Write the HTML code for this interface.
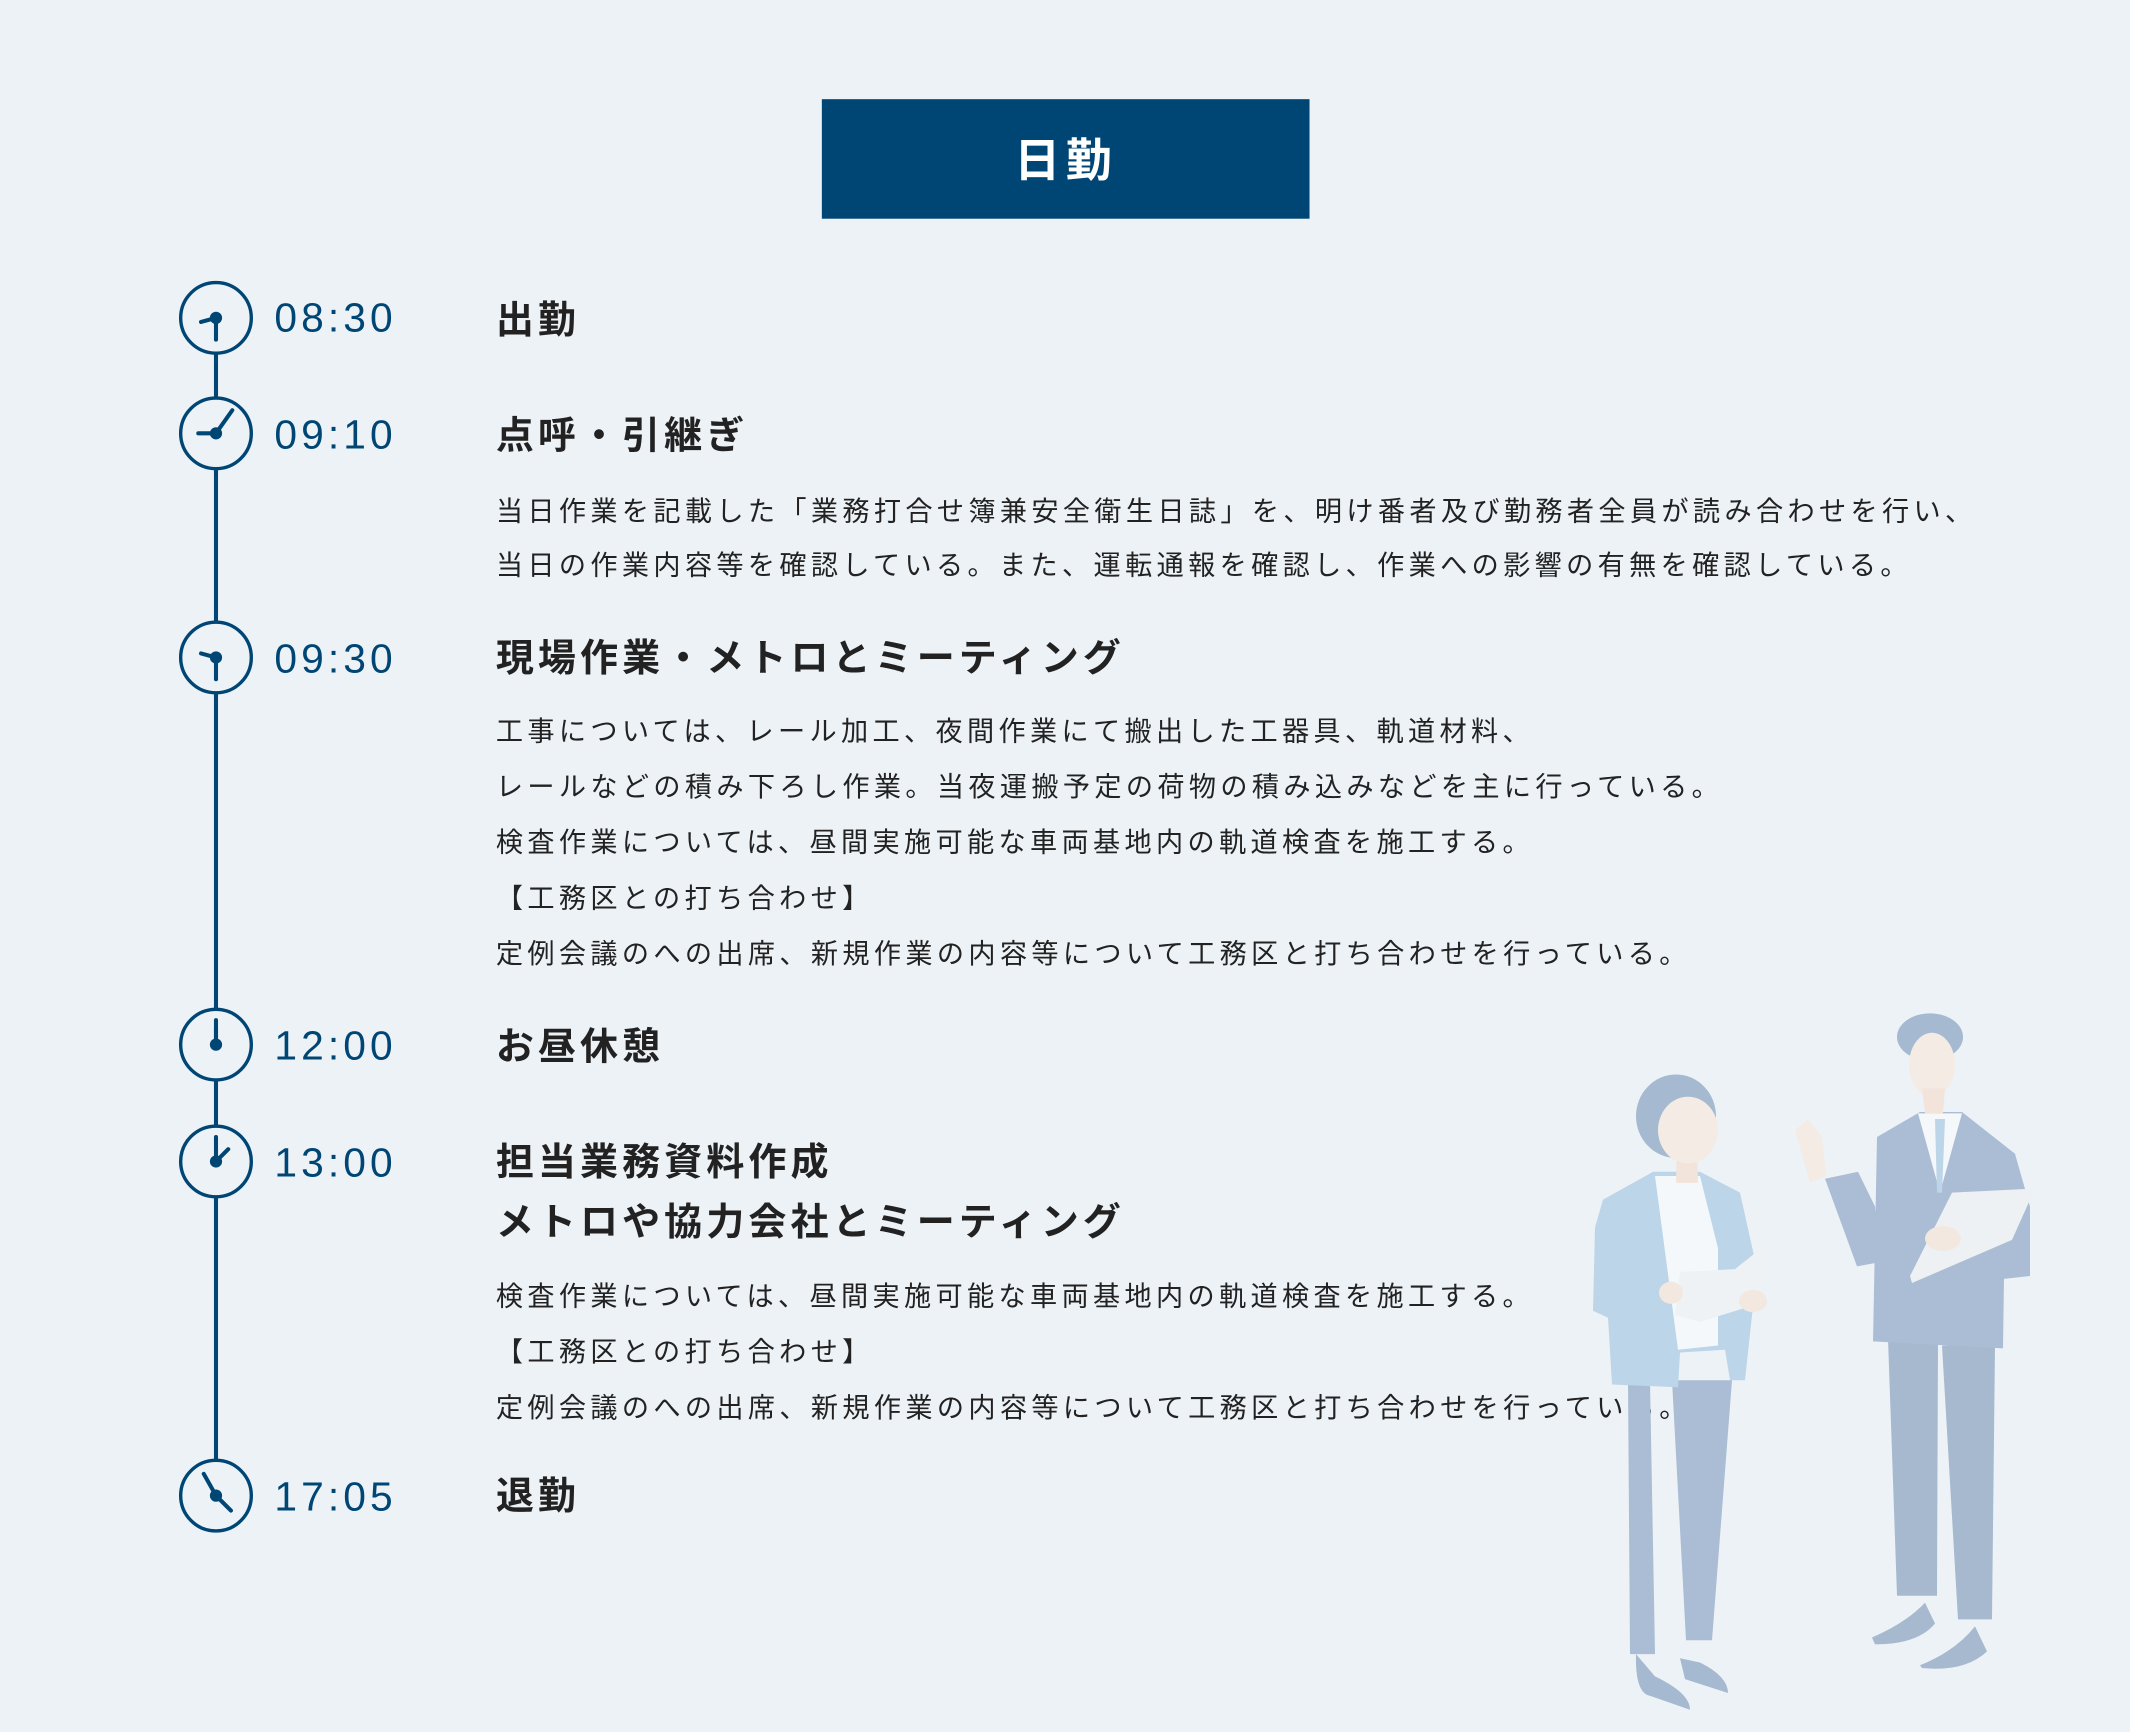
<!DOCTYPE html>
<html><head><meta charset="utf-8">
<style>
html,body{margin:0;padding:0;background:#edf2f7;}
svg{position:absolute;left:0;top:0;display:block}
.t{font-family:"Liberation Sans","Noto Sans CJK JP",sans-serif;}
</style></head>
<body>
<svg width="2130" height="1732" viewBox="0 0 1568 1275" xmlns="http://www.w3.org/2000/svg">
<rect width="1568" height="1275" fill="#edf2f7"/>
<rect x="605" y="73" width="359" height="88" fill="#004675"/>
<text x="784.5" y="130" text-anchor="middle" class="t" font-size="34" font-weight="bold" fill="#fff" letter-spacing="4">日勤</text>
<line x1="159" y1="234" x2="159" y2="1101" stroke="#004675" stroke-width="3"/>
<g fill="#edf2f7" stroke="#004675" stroke-width="2.5">
<circle cx="159" cy="234" r="26"/><circle cx="159" cy="319" r="26"/><circle cx="159" cy="484" r="26"/>
<circle cx="159" cy="769" r="26"/><circle cx="159" cy="855" r="26"/><circle cx="159" cy="1101" r="26"/>
</g>
<g stroke="#004675" stroke-width="3" stroke-linecap="round" fill="#004675">
<line x1="159" y1="234" x2="159" y2="250"/><line x1="159" y1="234" x2="148" y2="237"/><circle cx="159" cy="234" r="3"/>
<line x1="159" y1="319" x2="171" y2="302"/><line x1="159" y1="319" x2="146" y2="319"/><circle cx="159" cy="319" r="3"/>
<line x1="159" y1="484" x2="159" y2="500"/><line x1="159" y1="484" x2="148" y2="481"/><circle cx="159" cy="484" r="3"/>
<line x1="159" y1="769" x2="159" y2="751"/><line x1="159" y1="769" x2="159" y2="757"/><circle cx="159" cy="769" r="3"/>
<line x1="159" y1="855" x2="159" y2="837"/><line x1="159" y1="855" x2="168" y2="846"/><circle cx="159" cy="855" r="3"/>
<line x1="159" y1="1101" x2="150" y2="1085"/><line x1="159" y1="1101" x2="170" y2="1112"/><circle cx="159" cy="1101" r="3"/>
</g>
<g class="t" font-size="30" fill="#004675" letter-spacing="3">
<text x="202" y="244">08:30</text><text x="202" y="330">09:10</text><text x="202" y="495">09:30</text>
<text x="202" y="780">12:00</text><text x="202" y="866">13:00</text><text x="202" y="1112">17:05</text>
</g>
<g class="t" font-size="28" font-weight="bold" fill="#222" letter-spacing="3">
<text x="365" y="245">出勤</text>
<text x="365" y="330">点呼・引継ぎ</text>
<text x="365" y="494">現場作業・メトロとミーティング</text>
<text x="365" y="780">お昼休憩</text>
<text x="365" y="865">担当業務資料作成</text>
<text x="365" y="909">メトロや協力会社とミーティング</text>
<text x="365" y="1111">退勤</text>
</g>
<g class="t" font-size="20" fill="#222" letter-spacing="3.2">
<text x="365" y="383">当日作業を記載した「業務打合せ簿兼安全衛生日誌」を、明け番者及び勤務者全員が読み合わせを行い、</text>
<text x="365" y="423">当日の作業内容等を確認している。また、運転通報を確認し、作業への影響の有無を確認している。</text>
<text x="365" y="545">工事については、レール加工、夜間作業にて搬出した工器具、軌道材料、</text>
<text x="365" y="586">レールなどの積み下ろし作業。当夜運搬予定の荷物の積み込みなどを主に行っている。</text>
<text x="365" y="627">検査作業については、昼間実施可能な車両基地内の軌道検査を施工する。</text>
<text x="365" y="668">【工務区との打ち合わせ】</text>
<text x="365" y="709">定例会議のへの出席、新規作業の内容等について工務区と打ち合わせを行っている。</text>
<text x="365" y="961">検査作業については、昼間実施可能な車両基地内の軌道検査を施工する。</text>
<text x="365" y="1002">【工務区との打ち合わせ】</text>
<text x="365" y="1043">定例会議のへの出席、新規作業の内容等について工務区と打ち合わせを行っている。</text>
</g>
</svg>
<svg width="2130" height="1732" viewBox="0 0 2130 1732" xmlns="http://www.w3.org/2000/svg">
<g transform="translate(0,1005) scale(1,1.39) translate(0,-1005)">
<!-- woman -->
<g>
<path d="M1628 1275 L1650 1275 L1655 1472 L1630 1472 Z" fill="#aabdd4"/>
<path d="M1672 1275 L1732 1275 L1712 1462 L1686 1462 Z" fill="#aabdd4"/>
<path d="M1636 1472 Q1635 1500 1650 1502 L1690 1512 Q1690 1500 1655 1488 Z" fill="#a5b9d0"/>
<path d="M1680 1475 L1685 1490 L1728 1500 Q1728 1488 1700 1478 Z" fill="#a5b9d0"/>
<path d="M1603 1145 L1653 1125 L1700 1125 L1740 1140 L1757 1195 L1745 1275 L1730 1275 L1725 1253 L1680 1255 L1678 1280 L1612 1278 L1608 1230 L1593 1225 L1595 1165 Z" fill="#bcd5e8"/>
<path d="M1655 1128 L1700 1128 L1718 1180 L1718 1250 L1678 1253 Z" fill="#f4f8fb"/>
<path d="M1677 1105 L1697 1105 L1698 1133 L1676 1133 Z" fill="#f2e4da"/>
<ellipse cx="1676" cy="1085" rx="40" ry="30" fill="#a5b9d0"/>
<ellipse cx="1688" cy="1095" rx="30" ry="24" fill="#f3ebe4"/>
<path d="M1680 1197 L1735 1195 L1770 1175 L1758 1220 L1700 1233 L1675 1228 Z" fill="#eef2f5"/>
<ellipse cx="1753" cy="1218" rx="14" ry="8" fill="#f3e8e0"/>
<ellipse cx="1671" cy="1212" rx="12" ry="8" fill="#f3e8e0"/>
</g>
<!-- man -->
<g>
<path d="M1888 1245 L1938 1245 L1937 1430 L1897 1430 Z" fill="#a7b9cf"/>
<path d="M1942 1250 L1995 1250 L1992 1447 L1958 1447 Z" fill="#a7b9cf"/>
<path d="M1872 1460 Q1905 1450 1925 1435 L1935 1450 Q1918 1465 1875 1465 Z" fill="#a7b9cf"/>
<path d="M1920 1480 Q1955 1470 1975 1452 L1987 1470 Q1965 1485 1922 1482 Z" fill="#a7b9cf"/>
<path d="M1877 1100 L1920 1082 L1962 1082 L2015 1112 L2030 1150 L2030 1200 L2004 1202 L2003 1252 L1873 1247 Z" fill="#abbdd4"/>
<path d="M1858 1125 L1875 1150 L1880 1190 L1857 1193 L1825 1130 Z" fill="#abbdd4"/>
<path d="M1918 1083 L1962 1083 L1940 1140 Z" fill="#f4f8fb"/>
<path d="M1935 1087 L1945 1087 L1942 1140 L1937 1140 Z" fill="#bcd5e8"/>
<path d="M1795 1095 L1808 1087 L1822 1100 L1826 1128 L1810 1133 Z" fill="#f3ebe4"/>
<path d="M1952 1140 L2035 1137 L2012 1174 L1912 1205 L1910 1200 Z" fill="#eef1f4"/>
<ellipse cx="1943" cy="1173" rx="18" ry="9" fill="#f3e8e0"/>
<ellipse cx="1930" cy="1028" rx="33" ry="17" fill="#a5b9d0"/>
<ellipse cx="1932" cy="1048" rx="23" ry="23" fill="#f3ebe4"/>
<path d="M1922 1065 L1945 1065 L1943 1083 L1925 1083 Z" fill="#f2e4da"/>
</g>
</g>
</svg>
</body></html>
